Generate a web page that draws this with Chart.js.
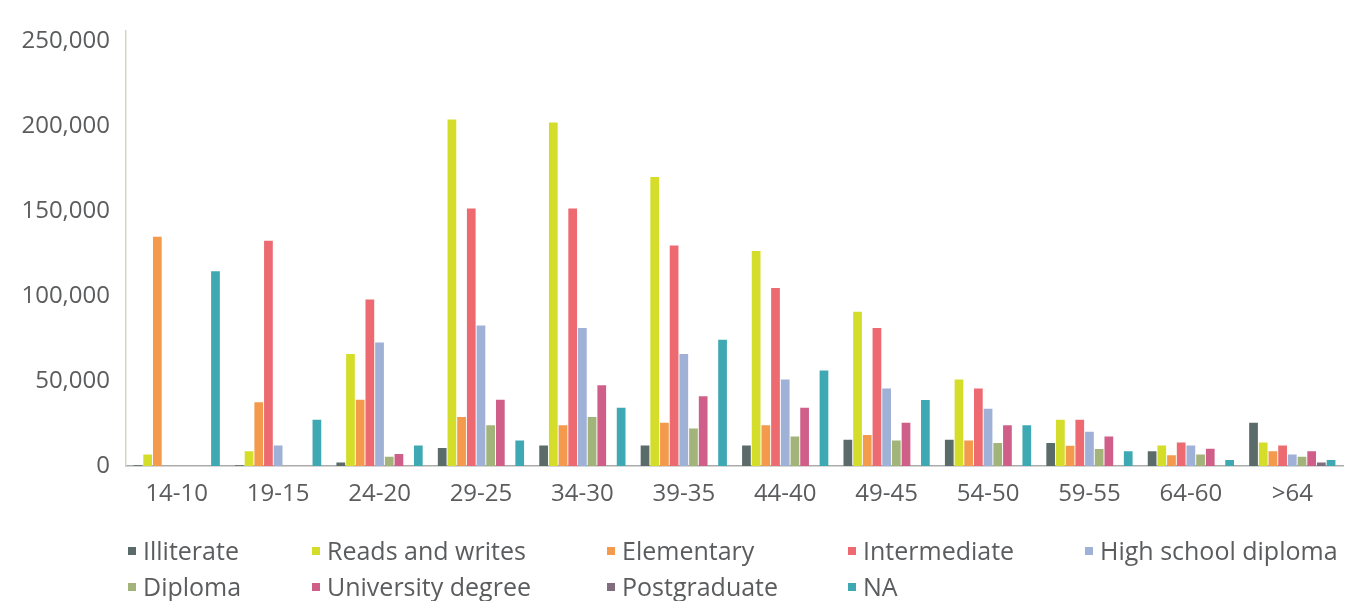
<!DOCTYPE html>
<html lang="en">
<head>
  <meta charset="UTF-8">
  <title>Education level by age group</title>
  <script src="https://cdn.jsdelivr.net/npm/chart.js"></script>
  <style>
    body {
      margin: 0;
      background: #fff;
      font-family: 'Open Sans', sans-serif;
      overflow: hidden;
    }
    .wrap {
      position: relative;
      width: 1348px;
      height: 601px;
    }
    .chart-box {
      position: absolute;
      left: 0;
      top: 0;
      width: 1348px;
      height: 601px;
    }
    .legend-item {
      position: absolute;
      display: flex;
      align-items: center;
      font-size: 25px;
      color: #5b5c5e;
      white-space: nowrap;
      transform: translateY(-50%);
    }
    .legend-item i {
      display: inline-block;
      width: 8px;
      height: 8px;
      margin-right: 7px;
      margin-top: 2px;
    }
  </style>
</head>
<body>
  <div class="wrap">
    <div class="chart-box"><canvas id="chartCanvas"></canvas></div>
    <div id="legend"></div>
  </div>

  <script>
    const ageGroups = ['14-10', '19-15', '24-20', '29-25', '34-30', '39-35', '44-40', '49-45', '54-50', '59-55', '64-60', '>64'];
    const yTicks = [0, 50000, 100000, 150000, 200000, 250000];

    const illiterate   = [500, 500, 2000, 10600, 12100, 12100, 12100, 15400, 15400, 13500, 8700, 25400];
    const readsWrites  = [6700, 8700, 66000, 204000, 202300, 170200, 126600, 90800, 51000, 27300, 12100, 13800];
    const elementary   = [135000, 37500, 39000, 28900, 24000, 25400, 24000, 18300, 15000, 11900, 6300, 8700];
    const intermediate = [0, 132700, 98000, 151600, 151600, 129800, 104800, 81200, 45600, 27300, 13800, 12100];
    const highSchool   = [0, 12100, 72700, 82700, 81200, 66000, 51000, 45600, 33700, 20200, 12100, 6700];
    const diploma      = [0, 0, 5400, 24000, 28900, 22100, 17300, 15000, 13500, 10000, 6700, 5400];
    const university   = [0, 0, 7100, 39000, 47500, 41000, 34300, 25400, 24000, 17300, 10200, 8700];
    const postgraduate = [0, 0, 0, 0, 0, 0, 0, 0, 0, 0, 0, 2000];
    const notAvailable = [114700, 27300, 12100, 15000, 34300, 74400, 56200, 38900, 24000, 8700, 3500, 3500];

    const seriesNames = ['Illiterate', 'Reads and writes', 'Elementary', 'Intermediate', 'High school diploma',
                         'Diploma', 'University degree', 'Postgraduate', 'NA'];
    const seriesValues = [illiterate, readsWrites, elementary, intermediate, highSchool,
                          diploma, university, postgraduate, notAvailable];
    const seriesColors = ['#5b6b69', '#d5dd2b', '#f39a4c', '#ec6a70', '#9fb1d6',
                          '#a2b479', '#cf5f88', '#7f6e7e', '#3ea9b3'];

    const textColor = '#5b5c5e';
    const tickFont = { family: 'Open Sans', size: 24 };

    // legend is laid out by hand: 5 columns, 2 rows (like the original)
    const legendCols = [128, 312, 607, 848, 1085];
    const legendRows = [550, 586];

    const htmlLegend = {
      id: 'htmlLegend',
      afterUpdate(chart) {
        const box = document.getElementById('legend');
        box.innerHTML = '';
        chart.data.datasets.forEach((ds, i) => {
          const item = document.createElement('div');
          item.className = 'legend-item';
          item.style.left = legendCols[i % 5] + 'px';
          item.style.top = legendRows[Math.floor(i / 5)] + 'px';
          item.innerHTML = '<i style="background:' + ds.backgroundColor + '"></i>' + ds.label;
          box.appendChild(item);
        });
      }
    };

    const ctx = document.getElementById('chartCanvas').getContext('2d');
    const chart = new Chart(ctx, {
      type: 'bar',
      data: {
        labels: ageGroups,
        datasets: seriesNames.map((name, i) => ({
          label: name,
          data: seriesValues[i],
          backgroundColor: seriesColors[i],
          categoryPercentage: 0.86,
          barPercentage: 0.9
        }))
      },
      options: {
        responsive: true,
        maintainAspectRatio: false,
        animation: false,
        layout: { padding: { top: 22, right: 5, left: 0, bottom: 0 } },
        plugins: {
          legend: { display: false },
          tooltip: { enabled: false }
        },
        scales: {
          x: {
            grid: { display: false, drawTicks: false },
            border: { color: '#ababab', width: 1.5 },
            ticks: { color: textColor, font: tickFont, padding: 14, maxRotation: 0 },
            afterFit(scale) { scale.height = 135; }
          },
          y: {
            min: 0,
            max: 256500,
            grid: { display: false, drawTicks: false },
            border: { color: '#d9d1c8', width: 1.5 },
            afterBuildTicks(scale) {
              scale.ticks = yTicks.map(v => ({ value: v }));
            },
            ticks: {
              color: textColor,
              font: tickFont,
              padding: 16,
              callback: v => v.toLocaleString('en-US')
            },
            afterFit(scale) { scale.width = 126; }
          }
        }
      },
      plugins: [htmlLegend]
    });
  </script>
</body>
</html>
